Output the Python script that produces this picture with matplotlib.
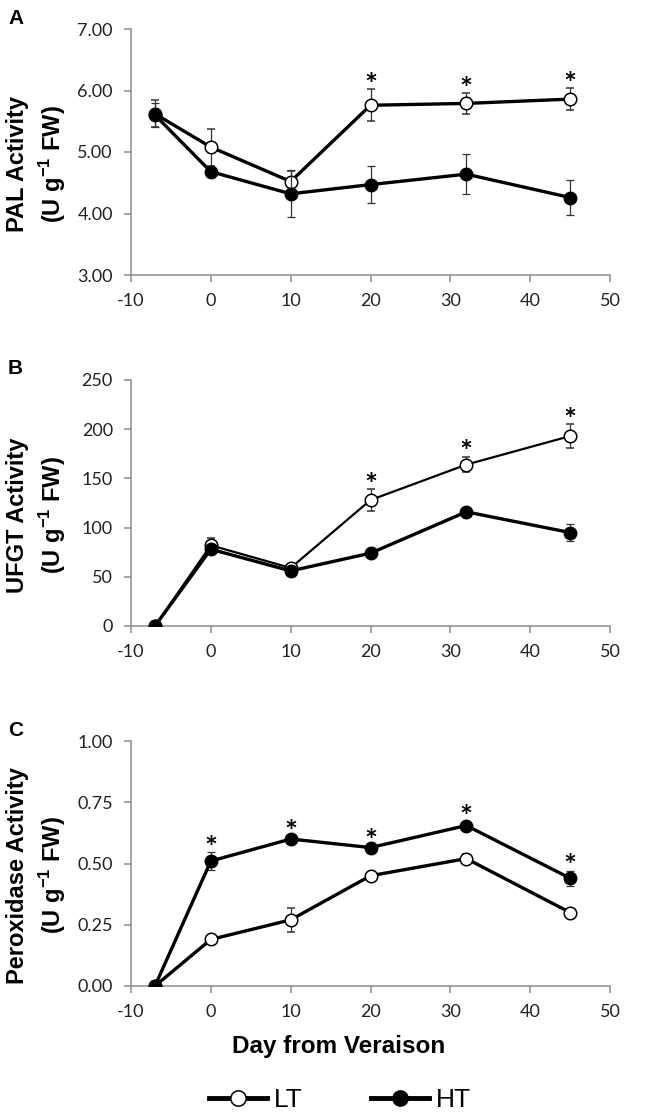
import numpy as np
import matplotlib
matplotlib.use("Agg")
import matplotlib.pyplot as plt
from matplotlib.lines import Line2D

plt.rcParams["mathtext.fontset"] = "custom"
plt.rcParams["mathtext.bf"] = "Liberation Sans:bold"
plt.rcParams["mathtext.rm"] = "Liberation Sans"
plt.rcParams["axes.unicode_minus"] = False

# Datos
days = [-7, 0, 10, 20, 32, 45]

pal_lt = [5.62, 5.08, 4.52, 5.76, 5.79, 5.86]
pal_lt_err = [0.22, 0.30, 0.17, 0.26, 0.17, 0.18]
pal_ht = [5.60, 4.68, 4.32, 4.47, 4.64, 4.26]
pal_ht_err = [0.20, 0.05, 0.38, 0.30, 0.32, 0.29]
pal_sig = [20, 32, 45]

ufgt_lt = [0, 82, 59, 128, 164, 193]
ufgt_lt_err = [0, 7, 3, 11, 8, 12]
ufgt_ht = [0, 78, 56, 74, 116, 95]
ufgt_ht_err = [0, 3, 3, 3, 4, 9]
ufgt_sig = [20, 32, 45]

pod_lt = [0.0, 0.19, 0.27, 0.45, 0.52, 0.30]
pod_lt_err = [0.0, 0.01, 0.05, 0.01, 0.02, 0.01]
pod_ht = [0.0, 0.51, 0.60, 0.565, 0.655, 0.44]
pod_ht_err = [0.0, 0.035, 0.01, 0.01, 0.015, 0.03]
pod_sig = [0, 10, 20, 32, 45]

panels = [
    ("A", "PAL Activity", pal_lt, pal_lt_err, pal_ht, pal_ht_err, pal_sig,
     (3, 7), [3, 4, 5, 6, 7], "{:.2f}"),
    ("B", "UFGT Activity", ufgt_lt, ufgt_lt_err, ufgt_ht, ufgt_ht_err, ufgt_sig,
     (0, 250), [0, 50, 100, 150, 200, 250], "{:.0f}"),
    ("C", "Peroxidase Activity", pod_lt, pod_lt_err, pod_ht, pod_ht_err, pod_sig,
     (0, 1), [0, 0.25, 0.5, 0.75, 1.0], "{:.2f}"),
]

W, H = 645, 1114
fig = plt.figure(figsize=(W / 100, H / 100), dpi=100)

# posiciones en píxeles: (arriba, abajo) de cada panel
tops = [29, 380, 741]
bottoms = [275, 626, 986]
left, right = 131, 610

gray = "#8c8c8c"
tick_font = "Lato"
lt_style = dict(color="black", marker="o", markerfacecolor="white",
                markeredgecolor="black", markersize=9, markeredgewidth=1.1)
ht_style = dict(color="black", marker="o", markerfacecolor="black",
                markeredgecolor="black", markersize=9)

for i, (letter, name, lt, lt_e, ht, ht_e, sig, ylim, yticks, fmt) in enumerate(panels):
    ax = fig.add_axes([left / W, 1 - bottoms[i] / H,
                       (right - left) / W, (bottoms[i] - tops[i]) / H])
    lw_lt = 1.6 if letter == "B" else 2.4
    ax.errorbar(days, lt, yerr=lt_e, lw=lw_lt, ecolor="#333333", elinewidth=0.9,
                capsize=3, capthick=0.9, zorder=3, **lt_style)
    ax.errorbar(days, ht, yerr=ht_e, lw=2.4, ecolor="#333333", elinewidth=0.9,
                capsize=3, capthick=0.9, zorder=4, **ht_style)

    # asteriscos de significancia
    for d in sig:
        k = days.index(d)
        top = max(lt[k] + lt_e[k], ht[k] + ht_e[k])
        ax.annotate("*", (d, top), xytext=(0, -4), textcoords="offset points",
                    ha="center", va="baseline", fontsize=22, fontweight="bold",
                    family=tick_font)

    ax.set_xlim(-10, 50)
    ax.set_ylim(*ylim)
    ax.set_xticks(range(-10, 51, 10))
    ax.set_yticks(yticks)
    ax.set_yticklabels([fmt.format(v) for v in yticks])
    for s in ["top", "right"]:
        ax.spines[s].set_visible(False)
    for s in ["left", "bottom"]:
        ax.spines[s].set_color(gray)
        ax.spines[s].set_linewidth(1.1)
    ax.tick_params(direction="out", length=5, width=1.1, color=gray,
                   labelsize=13, pad=8)
    for lab in ax.get_xticklabels() + ax.get_yticklabels():
        lab.set_family(tick_font)
        lab.set_color("#222222")

    yc = 1 - ((tops[i] + bottoms[i]) / 2 + 12) / H
    fig.text(37 / W, yc, name + "\n(U g$^{\\mathbf{-1}}$ FW)", rotation=90,
             ha="center", va="center", fontsize=17, fontweight="bold",
             family="Liberation Sans", linespacing=1.3, multialignment="center")
    fig.text(8 / W, 1 - (tops[i] - 11) / H, letter, ha="left", va="center",
             fontsize=15, fontweight="bold", family="Liberation Sans")

fig.text(339 / W, 1 - 1047 / H, "Day from Veraison", ha="center", va="center",
         fontsize=17.5, fontweight="bold", family="Liberation Sans")

handles = [Line2D([], [], lw=3.5, **{**lt_style, "markersize": 11}),
           Line2D([], [], lw=3.5, **{**ht_style, "markersize": 11})]
fig.legend(handles, ["LT", "HT"], loc="center", bbox_to_anchor=(340 / W, 1 - 1100 / H),
           ncol=2, frameon=False, handlelength=2.2, handletextpad=0.25,
           columnspacing=2.6, prop={"family": "Liberation Sans", "size": 19})

fig.savefig("out.png", dpi=100)
